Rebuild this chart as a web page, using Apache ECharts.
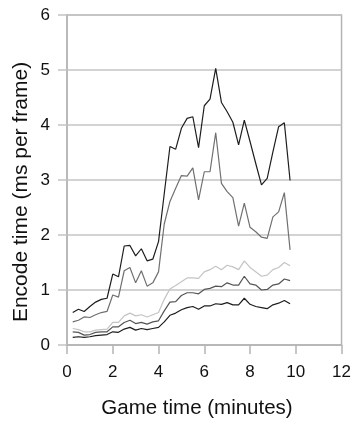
<!DOCTYPE html>
<html>
<head>
<meta charset="utf-8">
<script src="https://cdn.jsdelivr.net/npm/echarts@6/dist/echarts.min.js"></script>
<style>
  html, body { margin: 0; padding: 0; background: #fff; }
  #chart { width: 354px; height: 425px; }
</style>
</head>
<body>
<div id="chart"></div>
<script>
// Sample times in minutes (one sample every 15 seconds)
const times = [0.25, 0.5, 0.75, 1.0, 1.25, 1.5, 1.75, 2.0, 2.25, 2.5, 2.75, 3.0, 3.25,
  3.5, 3.75, 4.0, 4.25, 4.5, 4.75, 5.0, 5.25, 5.5, 5.75, 6.0, 6.25, 6.5, 6.75, 7.0,
  7.25, 7.5, 7.75, 8.0, 8.25, 8.5, 8.75, 9.0, 9.25, 9.5, 9.75];

// Encode time per frame (ms) for each encoder configuration
const encodeA = [0.59, 0.65, 0.61, 0.70, 0.78, 0.83, 0.85, 1.29, 1.24, 1.80, 1.81, 1.62, 1.75,
  1.53, 1.56, 1.88, 2.75, 3.61, 3.56, 3.94, 4.12, 4.15, 3.59, 4.35, 4.47, 5.03, 4.41, 4.24,
  4.05, 3.64, 4.09, 3.70, 3.30, 2.91, 3.03, 3.51, 3.97, 4.04, 2.99];
const encodeB = [0.42, 0.45, 0.51, 0.50, 0.55, 0.59, 0.61, 0.91, 0.87, 1.35, 1.41, 1.13, 1.35,
  1.07, 1.13, 1.33, 2.20, 2.61, 2.85, 3.08, 3.07, 3.22, 2.64, 3.15, 3.15, 3.86, 2.94, 2.79,
  2.68, 2.16, 2.58, 2.14, 2.06, 1.96, 1.94, 2.33, 2.42, 2.77, 1.73];
const encodeC = [0.30, 0.28, 0.24, 0.24, 0.27, 0.28, 0.29, 0.41, 0.41, 0.53, 0.58, 0.53, 0.55,
  0.51, 0.55, 0.59, 0.83, 1.02, 1.08, 1.15, 1.22, 1.22, 1.21, 1.33, 1.37, 1.43, 1.37, 1.45,
  1.42, 1.37, 1.53, 1.41, 1.33, 1.25, 1.27, 1.37, 1.41, 1.50, 1.44];
const encodeD = [0.24, 0.23, 0.18, 0.19, 0.23, 0.24, 0.24, 0.33, 0.33, 0.41, 0.45, 0.39, 0.41,
  0.38, 0.42, 0.44, 0.62, 0.78, 0.79, 0.90, 0.95, 0.95, 0.93, 1.01, 1.03, 1.07, 1.06, 1.13,
  1.09, 1.09, 1.25, 1.11, 1.09, 1.00, 1.01, 1.09, 1.11, 1.20, 1.17];
const encodeE = [0.14, 0.15, 0.14, 0.15, 0.17, 0.18, 0.19, 0.24, 0.23, 0.29, 0.32, 0.27, 0.30,
  0.28, 0.30, 0.32, 0.42, 0.54, 0.58, 0.64, 0.68, 0.70, 0.65, 0.71, 0.71, 0.75, 0.74, 0.77,
  0.73, 0.73, 0.85, 0.74, 0.70, 0.68, 0.66, 0.73, 0.76, 0.81, 0.75];

const seriesList = [
  { values: encodeC, color: '#c4c4c4' },
  { values: encodeB, color: '#707070' },
  { values: encodeD, color: '#555555' },
  { values: encodeE, color: '#1e1e1e' },
  { values: encodeA, color: '#1e1e1e' }
];

const FONT = '"Liberation Sans", Arial, sans-serif';
const chart = echarts.init(document.getElementById('chart'), null, { renderer: 'canvas' });

chart.setOption({
  animation: false,
  backgroundColor: '#ffffff',
  grid: {
    left: 67, right: 12, top: 15, bottom: 80,
    show: true, borderColor: '#b4b4b4', borderWidth: 1.5, backgroundColor: 'transparent'
  },
  xAxis: {
    type: 'value', min: 0, max: 12, interval: 2,
    axisLine: { show: true, lineStyle: { color: '#b4b4b4', width: 1.5 } },
    axisTick: { show: true, length: 9, lineStyle: { color: '#b4b4b4', width: 1.5 } },
    splitLine: { show: false },
    axisLabel: { color: '#111', fontSize: 17, fontFamily: FONT, margin: 19 }
  },
  yAxis: {
    type: 'value', min: 0, max: 6, interval: 1,
    axisLine: { show: true, lineStyle: { color: '#b4b4b4', width: 1.5 } },
    axisTick: { show: true, length: 9, lineStyle: { color: '#c4c4c4', width: 1.5 } },
    splitLine: { show: true, lineStyle: { color: '#c4c4c4', width: 1.5 } },
    axisLabel: { color: '#111', fontSize: 17, fontFamily: FONT, margin: 17 }
  },
  graphic: [
    {
      type: 'text', x: 197, y: 408,
      style: { text: 'Game time (minutes)', font: '20.5px ' + FONT, fill: '#111',
               textAlign: 'center', textVerticalAlign: 'middle' }
    },
    {
      type: 'text', x: 21, y: 192, rotation: Math.PI / 2,
      style: { text: 'Encode time (ms per frame)', font: '21px ' + FONT, fill: '#111',
               textAlign: 'center', textVerticalAlign: 'middle' }
    }
  ],
  series: seriesList.map(s => ({
    type: 'line',
    data: times.map((t, i) => [t, s.values[i]]),
    showSymbol: false,
    lineStyle: { color: s.color, width: 1.2 },
    silent: true
  }))
});
</script>
</body>
</html>
